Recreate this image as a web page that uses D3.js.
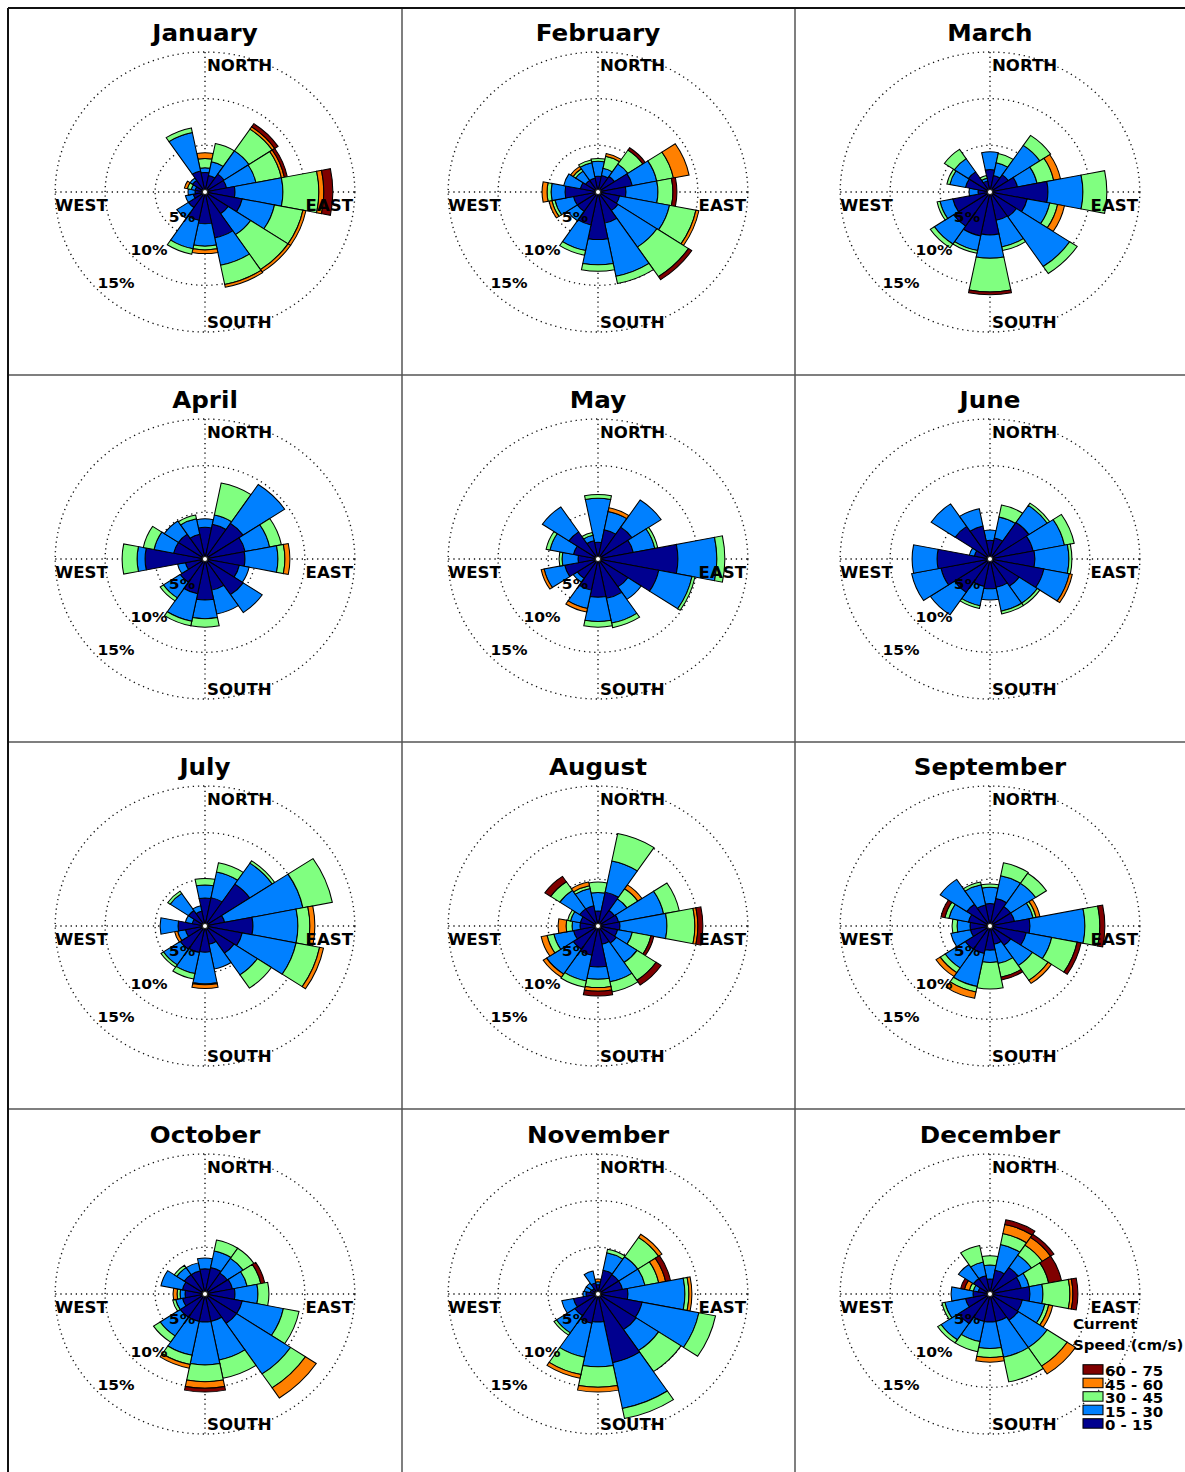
<!DOCTYPE html>
<html>
<head>
<meta charset="utf-8">
<script src="https://cdn.jsdelivr.net/npm/d3@7"></script>
<style>
  body { margin: 0; background: #fff; }
  text { font-family: "DejaVu Sans", sans-serif; font-weight: bold; fill: #000; }
</style>
</head>
<body>
<script>
// ---- data (percent of time, per direction, per speed bin) ----
const months = ["January", "February", "March", "April", "May", "June",
  "July", "August", "September", "October", "November", "December"];
const directions = ["N", "NNE", "NE", "ENE", "E", "ESE", "SE", "SSE",
  "S", "SSW", "SW", "WSW", "W", "WNW", "NW", "NNW"];
const speedBins = ["0 - 15", "15 - 30", "30 - 45", "45 - 60", "60 - 75"];
const binColors = ["#00008f", "#0080ff", "#80ff80", "#ff8000", "#800000"];
const ringTicks = [5, 10, 15];
const compassLabels = ["NORTH", "EAST", "SOUTH", "WEST"];

// rows: N, NNE, NE ... NNW ; columns: 0-15, 15-30, 30-45, 45-60, 60-75 cm/s
const jan = [[2.1,0.5,1.0,0.6,0],[1.8,1.5,2.0,0,0],[2.3,3.0,2.8,0.3,0.4],[2.2,3.0,2.6,0.3,0.3],
  [3.0,4.8,3.6,0.5,0.9],[3.8,3.3,2.9,0.3,0],[2.8,2.7,4.5,0.3,0],[5.0,3.0,2.1,0.3,0],
  [3.4,2.4,0.4,0.4,0],[3.1,3.1,0.6,0,0],[2.0,1.4,0,0,0],[1.2,0.8,0,0,0],
  [1.0,0.7,0,0,0],[1.0,0.4,0.4,0.3,0],[1.5,0.3,0,0,0],[2.3,4.2,0.5,0,0]];
const feb = [[1.7,1.6,0.3,0,0],[1.8,0.8,1.3,0.3,0],[2.0,1.6,1.8,0,0.3],[3.5,2.5,1.7,1.6,0],
  [2.8,3.2,1.5,0,0.4],[2.2,5.1,2.7,0.3,0],[2.4,4.7,3.8,0,0.4],[3.4,5.8,0.8,0,0],
  [5.1,2.7,0.7,0,0],[3.6,2.8,0.5,0,0],[2.5,1.2,0,0,0],[2.5,1.9,0.3,0.3,0],
  [3.3,1.4,0.4,0.5,0],[1.8,1.7,0,0,0],[1.5,1.2,0.3,0.3,0],[1.5,1.7,0.3,0,0]];
const mar = [[2.4,1.9,0,0,0],[1.8,1.4,1.0,0,0],[2.2,3.8,1.3,0,0],[2.8,2.0,1.7,0.7,0],
  [5.8,3.5,2.4,0,0],[3.8,2.3,0.8,0.7,0],[3.2,6.4,0.9,0,0],[3.1,2.9,0.4,0,0],
  [4.6,2.5,3.6,0,0.3],[4.8,1.6,0.3,0,0],[4.4,2.3,0.5,0,0],[3.8,1.3,0.3,0,0],
  [1.2,0.9,0,0,0],[2.5,1.6,0.3,0,0],[2.6,1.7,1.2,0,0],[1.2,0.3,0.3,0,0]];
const apr = [[3.4,0.9,0,0,0],[3.8,1.0,3.5,0,0],[4.6,5.0,0,0,0],[4.1,2.5,1.2,0,0],
  [4.0,3.3,0.7,0.5,0],[3.5,1.0,0,0,0],[4.6,2.3,0,0,0],[3.4,2.6,0,0,0],
  [4.4,2.0,0.9,0,0],[3.8,3.0,0.5,0,0],[3.0,2.0,0.4,0,0],[2.0,0.8,0,0,0],
  [6.0,0.8,1.5,0,0],[3.2,2.0,1.1,0,0],[3.2,1.7,0,0,0],[2.7,1.7,0.4,0,0]];
const may = [[1.8,4.7,0.4,0,0],[3.2,2.0,0,0.4,0],[4.1,3.5,0,0,0],[3.6,2.2,0.3,0,0],
  [8.0,3.9,0.8,0,0],[6.2,3.4,0.3,0,0],[3.6,1.6,0,0,0],[4.3,2.7,0.5,0,0],
  [4.1,2.6,0.6,0,0],[3.4,2.0,0,0.4,0],[2.5,0.5,0,0,0],[3.4,2.1,0,0.3,0],
  [2.0,1.6,0.3,0,0],[2.5,2.4,0.4,0,0],[3.5,3.2,0,0,0],[2.0,0.6,0.3,0,0]];
const jun = [[2.0,1.1,0,0,0],[2.3,2.3,1.3,0,0],[4.7,2.2,0.3,0,0],[4.4,3.2,1.0,0,0],
  [4.5,3.4,0.3,0,0],[5.5,2.6,0,0.3,0],[3.5,2.2,0.3,0,0],[3.1,2.6,0.3,0,0],
  [3.2,1.2,0,0,0],[3.0,2.1,0.3,0,0],[4.3,2.9,0,0,0],[5.0,3.0,0,0,0],
  [5.3,2.5,0,0,0],[1.6,0.5,0,0,0],[4.2,2.9,0,0,0],[3.6,1.9,0,0,0]];
const jul = [[3.0,1.4,0.7,0,0],[3.1,2.8,1.0,0,0],[5.4,2.7,0.3,0,0],[2.0,8.0,3.0,0,0],
  [4.8,4.5,1.2,0.5,0],[3.8,5.5,2.4,0.4,0],[3.5,2.8,1.7,0,0],[2.0,2.7,0,0,0],
  [2.8,3.4,0.1,0.4,0],[2.9,2.3,0.6,0,0],[3.0,2.0,0.3,0,0],[2.0,0.8,0,0.3,0],
  [2.7,1.8,0,0,0],[1.3,0.7,0,0,0],[2.0,2.2,0.3,0,0],[1.6,0.6,0,0,0]];
const aug = [[1.6,2.0,1.1,0,0],[3.7,3.4,3.0,0,0],[2.0,1.5,1.3,0.5,0],[2.1,4.6,1.6,0,0],
  [2.2,4.7,2.8,0.3,0.5],[2.0,1.5,1.9,0,0.3],[2.2,2.5,2.3,0,0.6],[2.0,4.1,1.1,0,0],
  [4.4,1.3,0.9,0.4,0.5],[3.2,2.8,0.7,0,0],[3.0,3.2,0,0.4,0],[2.5,2.0,0.7,0.6,0],
  [1.8,0.8,0.6,0.8,0],[1.8,1.0,0.3,0,0],[2.2,2.4,1.1,0,0.7],[2.2,1.9,0.3,0.4,0]];
const sep = [[2.4,1.75,0.35,0,0],[3.0,2.5,1.4,0,0],[2.5,3.0,1.3,0,0],[2.5,1.9,0.3,0.4,0],
  [4.0,5.5,1.5,0,0.5],[3.7,2.6,2.6,0,0.4],[2.5,2.6,1.9,0.4,0],[2.0,2.1,1.5,0,0.3],
  [2.6,1.3,2.85,0,0],[3.0,3.6,0.6,0.7,0],[3.0,2.4,0.6,0.5,0],[2.0,2.0,0,0,0],
  [2.0,1.3,0.5,0,0],[2.2,2.0,0.4,0,0.4],[2.8,3.2,0,0,0],[2.3,2.2,0.3,0,0]];
const oct = [[2.7,1.15,0,0,0],[2.9,1.8,1.2,0,0],[2.7,1.9,1.3,0,0],[2.8,1.5,1.4,0,0.4],
  [3.0,2.3,1.1,0,0],[3.8,4.2,1.6,0,0],[3.8,6.5,1.8,1.3,0],[3.0,4.2,2.0,0,0],
  [3.0,4.6,1.8,0.7,0.4],[3.0,3.7,1.0,0.4,0],[3.0,2.4,0.8,0,0],[2.3,0.7,0.3,0,0],
  [2.0,0.5,0.3,0.4,0],[2.3,2.2,0,0,0],[2.5,0.9,0.3,0,0],[2.5,0.9,0,0,0]];
const nov = [[1.0,0.3,0,0.3,0],[2.6,1.9,0.4,0,0],[2.5,2.3,2.5,0.4,0],[2.5,2.3,1.4,0.7,0.5],
  [3.0,5.7,0.4,0.3,0],[4.5,5.8,1.7,0,0],[4.6,2.7,2.7,0,0],[7.5,5.0,1.1,0,0],
  [3.0,4.8,2.2,0.5,0],[3.2,3.7,1.9,0.4,0],[2.8,2.2,0.3,0,0],[2.5,1.2,0,0,0],
  [1.2,0.3,0,0,0],[0.8,0.6,0,0,0],[0.7,0.7,0,0,0],[1.2,1.3,0,0,0]];
const dec = [[1.6,1.5,1.0,0,0],[2.6,2.8,1.2,1.0,0.5],[3.4,1.6,1.3,1.0,0.4],[3.2,0.8,2.0,0,1.3],
  [4.0,1.3,2.7,0.3,0.5],[3.3,2.3,0.4,0.4,0],[3.4,3.5,2.4,1.0,0],[3.0,3.9,2.7,0,0],
  [3.0,2.85,0.95,0.5,0],[3.0,2.2,1.1,0,0],[3.8,2.1,0.4,0,0],[2.5,2.1,0.3,0,0],
  [1.7,2.2,0,0,0],[1.2,0.5,0.4,0.5,0.4],[2.0,1.8,0,0,0],[2.0,1.5,1.8,0,0]];
const monthData = [jan, feb, mar, apr, may, jun, jul, aug, sep, oct, nov, dec];

// ---- layout ----
const W = 1185, H = 1472;
const colX = [205, 598, 990];
const rowY = [192, 559, 926, 1294];
const SX = 1.07; // plots are slightly wider than tall

const svg = d3.select("body").append("svg")
  .attr("width", W).attr("height", H);
svg.append("rect").attr("width", W).attr("height", H).attr("fill", "#fff");

const r = d3.scaleLinear().domain([0, 15]).range([0, 140]);
const sector = (2 * Math.PI) / directions.length;
const arc = d3.arc()
  .innerRadius((d) => r(d.r0))
  .outerRadius((d) => r(d.r1))
  .startAngle((d) => d.dir * sector - sector / 2)
  .endAngle((d) => d.dir * sector + sector / 2);

// panel frame
const gridX = [402, 795];
const gridY = [375, 742, 1109];
gridX.forEach((x) => {
  svg.append("line").attr("x1", x).attr("x2", x).attr("y1", 8).attr("y2", H)
    .attr("stroke", "#555").attr("stroke-width", 1.5);
});
gridY.forEach((y) => {
  svg.append("line").attr("x1", 8).attr("x2", W).attr("y1", y).attr("y2", y)
    .attr("stroke", "#555").attr("stroke-width", 1.5);
});
svg.append("line").attr("x1", 8).attr("x2", W).attr("y1", 8).attr("y2", 8)
  .attr("stroke", "#111").attr("stroke-width", 2);
svg.append("line").attr("x1", 8).attr("x2", 8).attr("y1", 8).attr("y2", H)
  .attr("stroke", "#111").attr("stroke-width", 2);

monthData.forEach((rows, m) => {
  const cx = colX[m % 3];
  const cy = rowY[Math.floor(m / 3)];
  const g = svg.append("g")
    .attr("transform", `translate(${cx},${cy}) scale(${SX},1)`);

  // title
  g.append("text").attr("x", 0).attr("y", -151)
    .attr("text-anchor", "middle").style("font-size", "23px")
    .text(months[m]);

  // dotted grid
  g.selectAll(".ring").data(ringTicks).enter().append("circle")
    .attr("class", "ring").attr("r", (d) => r(d))
    .attr("fill", "none").attr("stroke", "#111").attr("stroke-width", 1.3)
    .attr("stroke-dasharray", "1.2,3.6");
  const rMax = r(15);
  g.append("line").attr("x1", -rMax).attr("x2", rMax).attr("y1", 0).attr("y2", 0)
    .attr("stroke", "#111").attr("stroke-width", 1.3).attr("stroke-dasharray", "1.2,3.6");
  g.append("line").attr("x1", 0).attr("x2", 0).attr("y1", -rMax).attr("y2", rMax)
    .attr("stroke", "#111").attr("stroke-width", 1.3).attr("stroke-dasharray", "1.2,3.6");

  // stacked sectors
  const segs = [];
  rows.forEach((vals, dir) => {
    let acc = 0;
    vals.forEach((v, b) => {
      if (v > 0) segs.push({ dir: dir, bin: b, r0: acc, r1: acc + v });
      acc += v;
    });
  });
  g.selectAll(".seg").data(segs).enter().append("path")
    .attr("class", "seg")
    .attr("d", arc)
    .attr("fill", (d) => binColors[d.bin])
    .attr("stroke", "#000").attr("stroke-width", 1);

  g.append("circle").attr("r", 2.5).attr("fill", "#fff")
    .attr("stroke", "#222").attr("stroke-width", 1.2);

  // compass labels
  const lab = { "font-size": "15.5px" };
  g.append("text").attr("x", 2 / SX).attr("y", -121.5).style("font-size", lab["font-size"])
    .text(compassLabels[0]);
  g.append("text").attr("x", 148 / SX).attr("y", 19.5).attr("text-anchor", "end")
    .style("font-size", lab["font-size"]).text(compassLabels[1]);
  g.append("text").attr("x", 2 / SX).attr("y", 136).style("font-size", lab["font-size"])
    .text(compassLabels[2]);
  g.append("text").attr("x", -150 / SX).attr("y", 19.5).style("font-size", lab["font-size"])
    .text(compassLabels[3]);

  // ring labels
  g.selectAll(".rlab").data(ringTicks).enter().append("text")
    .attr("class", "rlab")
    .attr("x", (d) => -0.66 * r(d) + 9.3)
    .attr("y", (d) => 0.714 * r(d) - 3.6)
    .attr("text-anchor", "middle").style("font-size", "14.5px")
    .text((d) => d + "%");

  // legend in last panel
  if (m === 11) {
    const lg = g.append("g");
    lg.append("text").attr("x", 83 / SX).attr("y", 35).style("font-size", "14px").text("Current");
    lg.append("text").attr("x", 83 / SX).attr("y", 56).style("font-size", "14px").text("Speed (cm/s)");
    const order = [4, 3, 2, 1, 0];
    order.forEach((b, i) => {
      const top = 70.7 + i * 13.5;
      lg.append("rect").attr("x", 93 / SX).attr("y", top)
        .attr("width", 20 / SX).attr("height", 9.5)
        .attr("fill", binColors[b]).attr("stroke", "#000").attr("stroke-width", 1);
      lg.append("text").attr("x", 115 / SX).attr("y", top + 11.5)
        .style("font-size", "14px").text(speedBins[b]);
    });
  }
});
</script>
</body>
</html>
